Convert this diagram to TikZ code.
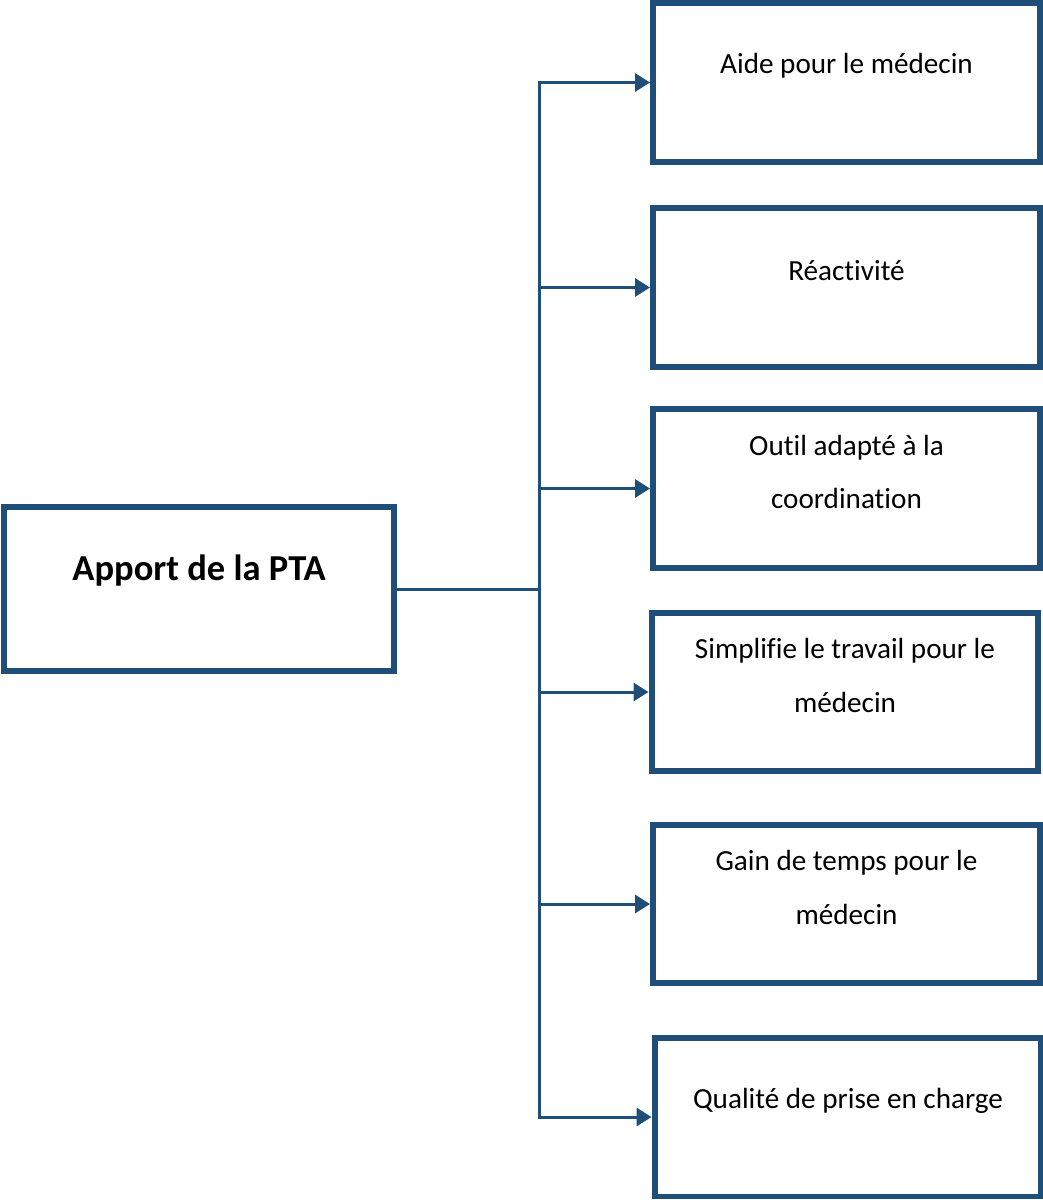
\documentclass[tikz,border=0pt]{standalone}
\usepackage{fontspec}
\setmainfont{Carlito}[RawFeature={-liga;-clig;-calt;-dlig}]
\usetikzlibrary{arrows.meta}
\definecolor{bordo}{HTML}{1F4E79}
\begin{document}
\begin{tikzpicture}[x=0.02cm, y=-0.02cm,
    main/.style = {draw=bordo, line width=0.12cm, minimum width=7.74cm, minimum height=3.18cm, inner sep=0pt},
    testo/.style = {align=center, font=\fontsize{16.6}{30.6}\selectfont, yshift=0.33cm},
    titolo/.style = {font=\fontsize{20.8}{25}\selectfont\bfseries, yshift=0.36cm},
    linea/.style = {draw=bordo, line width=0.06cm},
    freccia/.style = {linea, -{Triangle[length=0.3cm, width=0.36cm]}}]
    \useasboundingbox (0,0) rectangle (1043,1200);
    % Disegna i riquadri

    \node[main, minimum width=7.8cm, minimum height=3.28cm, label={[titolo]center:Apport de la PTA}] (0) at (199,589) {};
    \node[main, label={[testo]center:Aide pour le médecin}] (1) at (846.5,82.5) {};
    \node[main, label={[testo]center:Réactivité}] (2) at (846.5,287.5) {};
    \node[main, label={[testo]center:Outil adapté à la\\coordination}] (3) at (846.5,488.5) {};
    \node[main, label={[testo]center:Simplifie le travail pour le\\médecin}] (4) at (845,692) {};
    \node[main, label={[testo]center:Gain de temps pour le\\médecin}] (5) at (846.5,904) {};
    \node[main, label={[testo]center:Qualité de prise en charge}] (6) at (848,1117) {};

    \coordinate (tronco) at (539,589);

    \draw[linea] (0.east) to (tronco);
    \draw[linea, line cap=rect] (tronco |- 1.west) to (tronco |- 6.west);
    \draw[freccia] (tronco |- 1.west) to (1.west);
    \draw[freccia] (tronco |- 2.west) to (2.west);
    \draw[freccia] (tronco |- 3.west) to (3.west);
    \draw[freccia] (tronco |- 4.west) to (4.west);
    \draw[freccia] (tronco |- 5.west) to (5.west);
    \draw[freccia] (tronco |- 6.west) to (6.west);

\end{tikzpicture}
\end{document}
